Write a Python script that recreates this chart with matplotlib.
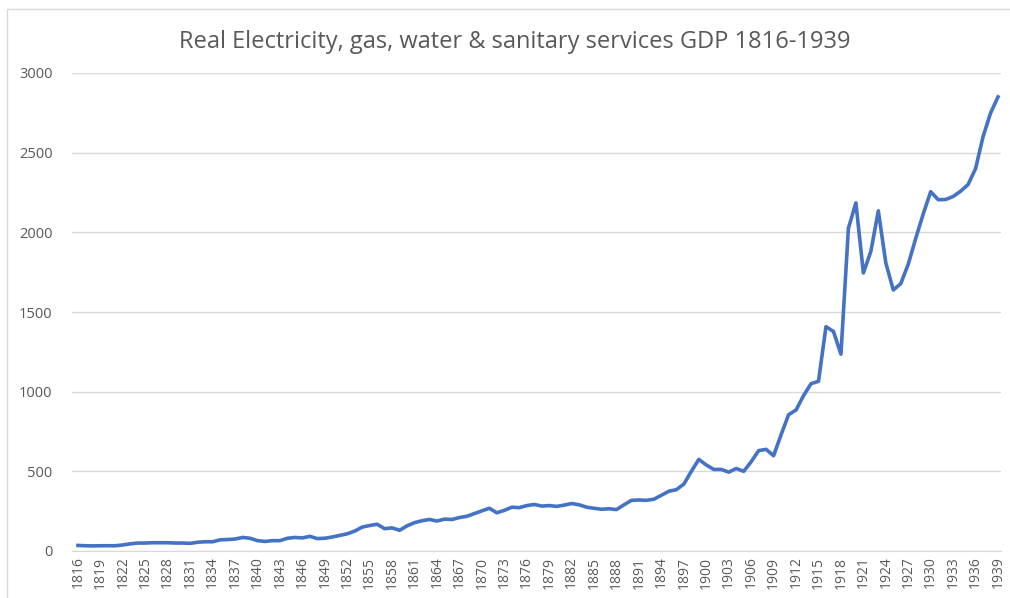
import matplotlib
matplotlib.use("Agg")
import matplotlib.pyplot as plt
from matplotlib.patches import Rectangle

years = list(range(1816, 1940))
gdp = [
    35, 33, 32, 33, 33, 33, 38, 45, 50, 50,          # 1816-1825
    52, 52, 52, 50, 50, 48, 55, 58, 58, 70,          # 1826-1835
    72, 75, 85, 80, 65, 60, 65, 65, 80, 85,          # 1836-1845
    82, 92, 78, 80, 88, 98, 108, 125, 150, 160,      # 1846-1855
    168, 140, 145, 130, 158, 178, 190, 198, 188, 200,  # 1856-1865
    198, 210, 218, 235, 252, 268, 240, 255, 275, 272,  # 1866-1875
    285, 292, 282, 285, 280, 288, 298, 290, 275, 268,  # 1876-1885
    262, 265, 260, 290, 318, 320, 318, 325, 350, 375,  # 1886-1895
    385, 420, 500, 575, 540, 512, 512, 495, 518, 500,  # 1896-1905
    560, 630, 638, 598, 730, 855, 885, 975, 1050, 1065,  # 1906-1915
    1408, 1378, 1235, 2025, 2185, 1745, 1880, 2135, 1808, 1638,  # 1916-1925
    1678, 1800, 1962, 2115, 2255, 2205, 2206, 2225, 2258, 2300,  # 1926-1935
    2400, 2600, 2748, 2850,                          # 1936-1939
]
tick_years = years[::3]

fig = plt.figure(figsize=(10.10, 5.98), dpi=100)
fig.patches.append(Rectangle((7 / 1010, -0.1), 1.2, 1 - 9 / 598 + 0.1,
                             transform=fig.transFigure, fill=False,
                             edgecolor="#d9d9d9", linewidth=1))

ax = fig.add_axes([72 / 1010, 1 - 551 / 598, (1001 - 72) / 1010, (551 - 73) / 598])
ax.plot(years, gdp, color="#4472C4", linewidth=2.6, solid_joinstyle="round")

ax.set_xlim(1815.2, 1939.4)
ax.set_ylim(0, 3000)
ax.set_yticks(range(0, 3001, 500))
ax.set_xticks(tick_years)
ax.set_xticklabels([str(y) for y in tick_years], rotation=90)

ax.grid(axis="y", color="#d9d9d9", linewidth=1)
ax.set_axisbelow(True)
for side in ["top", "right", "left"]:
    ax.spines[side].set_visible(False)
ax.spines["bottom"].set_color("#d9d9d9")
ax.tick_params(axis="both", length=0, colors="#595959", labelsize=10)
ax.tick_params(axis="y", labelsize=10.5, pad=14)
ax.tick_params(axis="x", pad=4)
for lab in ax.get_xticklabels() + ax.get_yticklabels():
    lab.set_fontfamily("Open Sans")

fig.text(515 / 1010, 1 - 42 / 598, "Real Electricity, gas, water & sanitary services GDP 1816-1939",
         ha="center", va="center", fontsize=17, color="#595959", fontfamily="Open Sans")

fig.savefig("out.png", dpi=100)
